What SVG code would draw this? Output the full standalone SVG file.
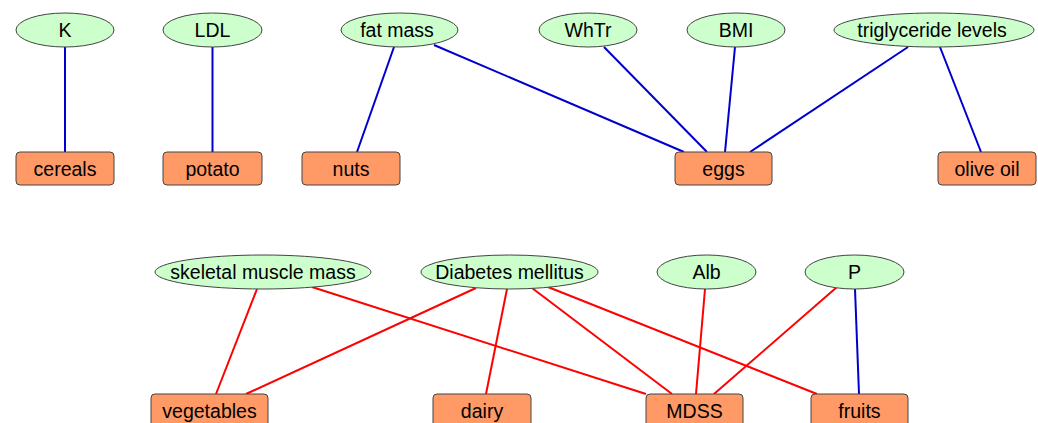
<svg xmlns="http://www.w3.org/2000/svg" width="1038" height="423" viewBox="0 0 1038 423">
<style>
.e{fill:#ccffcc;stroke:#444;stroke-width:1}
.b{fill:#ff9966;stroke:#444;stroke-width:1}
.t{font-family:"Liberation Sans",Arial,sans-serif;font-size:19.5px;fill:#000;text-anchor:middle}
.bl{stroke:#0000cc;stroke-width:2;fill:none}
.rd{stroke:#ff0000;stroke-width:2;fill:none}
</style>
<rect width="1038" height="423" fill="#fff"/>
<g id="connectors">
<line class="bl" x1="65" y1="47" x2="65" y2="152"/>
<line class="bl" x1="212.5" y1="47" x2="212.5" y2="152"/>
<line class="bl" x1="394" y1="47" x2="357" y2="152"/>
<line class="bl" x1="434" y1="45" x2="684" y2="152"/>
<line class="bl" x1="604" y1="47" x2="707" y2="152"/>
<line class="bl" x1="735" y1="47" x2="725" y2="152"/>
<line class="bl" x1="908" y1="47" x2="750" y2="152"/>
<line class="bl" x1="940" y1="47" x2="981" y2="152"/>
<line class="rd" x1="257" y1="289" x2="216" y2="394"/>
<line class="rd" x1="312" y1="287" x2="646" y2="394"/>
<line class="rd" x1="476" y1="288" x2="246" y2="394"/>
<line class="rd" x1="507" y1="289" x2="486" y2="394"/>
<line class="rd" x1="532" y1="288" x2="672" y2="394"/>
<line class="rd" x1="548" y1="287" x2="817" y2="394"/>
<line class="rd" x1="705" y1="289" x2="696" y2="394"/>
<line class="rd" x1="837" y1="287" x2="714" y2="394"/>
<line class="bl" x1="855" y1="289" x2="859" y2="394"/>
</g>
<g id="K"><ellipse class="e" cx="65" cy="30" rx="49" ry="17"/><text class="t" x="65" y="37">K</text></g>
<g id="LDL"><ellipse class="e" cx="212.5" cy="30" rx="49.5" ry="17"/><text class="t" x="212.5" y="37">LDL</text></g>
<g id="fatmass"><ellipse class="e" cx="399.5" cy="30" rx="58.5" ry="17"/><text class="t" x="397" y="37">fat mass</text></g>
<g id="WhTr"><ellipse class="e" cx="588" cy="30" rx="49" ry="17"/><text class="t" x="588" y="37">WhTr</text></g>
<g id="BMI"><ellipse class="e" cx="736" cy="30" rx="49" ry="17"/><text class="t" x="736" y="37">BMI</text></g>
<g id="triglyceride"><ellipse class="e" cx="934" cy="30" rx="100" ry="17"/><text class="t" x="932" y="37">triglyceride levels</text></g>
<g id="cereals"><rect class="b" x="16" y="152" width="98" height="33" rx="4"/><text class="t" x="65" y="176">cereals</text></g>
<g id="potato"><rect class="b" x="163" y="152" width="99" height="33" rx="4"/><text class="t" x="212.5" y="176">potato</text></g>
<g id="nuts"><rect class="b" x="302" y="152" width="98" height="33" rx="4"/><text class="t" x="351" y="176">nuts</text></g>
<g id="eggs"><rect class="b" x="675" y="152" width="97" height="33" rx="4"/><text class="t" x="723.5" y="176">eggs</text></g>
<g id="oliveoil"><rect class="b" x="938" y="152" width="98" height="33" rx="4"/><text class="t" x="987" y="176">olive oil</text></g>
<g id="skeletal"><ellipse class="e" cx="263" cy="272" rx="108" ry="17"/><text class="t" x="263" y="279">skeletal muscle mass</text></g>
<g id="diabetes"><ellipse class="e" cx="509.5" cy="272" rx="88.5" ry="17"/><text class="t" x="509.5" y="279">Diabetes mellitus</text></g>
<g id="Alb"><ellipse class="e" cx="706.5" cy="272" rx="49.5" ry="17"/><text class="t" x="706.5" y="279">Alb</text></g>
<g id="P"><ellipse class="e" cx="854.5" cy="272" rx="49.5" ry="17"/><text class="t" x="854.5" y="279">P</text></g>
<g id="vegetables"><rect class="b" x="151" y="394" width="117" height="33" rx="4"/><text class="t" x="209.5" y="418">vegetables</text></g>
<g id="dairy"><rect class="b" x="433" y="394" width="98" height="33" rx="4"/><text class="t" x="482" y="418">dairy</text></g>
<g id="MDSS"><rect class="b" x="646" y="394" width="97" height="33" rx="4"/><text class="t" x="694.5" y="418">MDSS</text></g>
<g id="fruits"><rect class="b" x="811" y="394" width="97" height="33" rx="4"/><text class="t" x="859.5" y="418">fruits</text></g>
</svg>
